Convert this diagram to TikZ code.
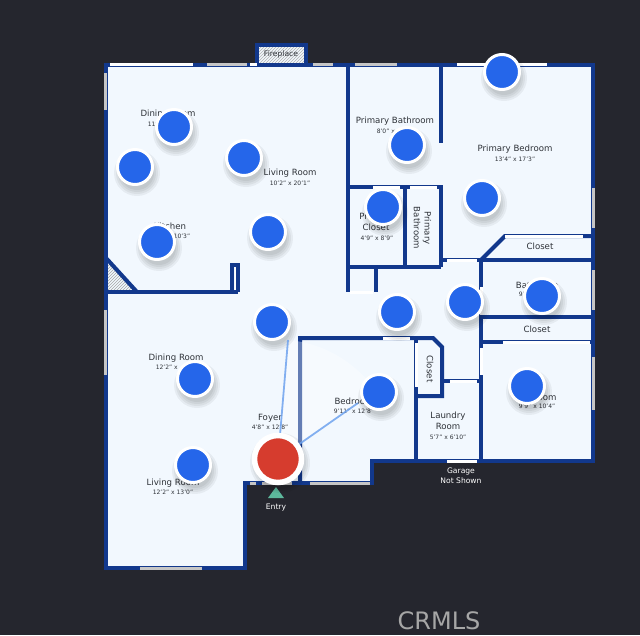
\documentclass[tikz,border=0pt]{standalone}
\usepackage{fontspec}
\setmainfont{DejaVu Sans}
\usetikzlibrary{patterns}
\definecolor{bgdark}{HTML}{25262E}
\definecolor{floorblue}{HTML}{F2F8FE}
\definecolor{wallblue}{HTML}{12388C}
\definecolor{pinblue}{HTML}{2566EA}
\definecolor{pinred}{HTML}{D63C2E}
\definecolor{rayblue}{HTML}{6FA3EE}
\definecolor{textgrey}{HTML}{2E3238}
\definecolor{entrygreen}{HTML}{5DB89C}
\begin{document}
\begin{tikzpicture}[
    x=1pt, y=1pt,
    wall/.style={draw=wallblue,line width=4pt},
    glass/.style={draw=#1,line width=3pt},
    glass/.default=white,
    room/.style={font=\fontsize{8.6}{10.6}\selectfont,text=textgrey,align=center,inner sep=0pt},
    small/.style={font=\fontsize{6}{7}\selectfont,text=textgrey,align=center,inner sep=0pt},
    tag/.style={font=\fontsize{7.6}{10.4}\selectfont,text=white,align=center,inner sep=0pt},
    pin/.style={circle,fill=pinblue,draw=white,line width=3pt,minimum size=35pt,inner sep=0pt},
    ray/.style={draw=rayblue,line width=1.8pt,opacity=.85}
]
    \useasboundingbox (0,0) rectangle (640,-635);
    \fill[bgdark] (0,0) rectangle (640,-635);

    % floor
    \fill[floorblue] (106,-65) -- (593,-65) -- (593,-461) -- (372,-461) -- (372,-483)
        -- (245,-483) -- (245,-568) -- (106,-568) -- cycle;
    \fill[pattern=north east lines,pattern color=gray!70] (106,-260) -- (136,-291) -- (106,-291) -- cycle;

    % fireplace
    \fill[floorblue] (257,-44) rectangle (306,-65);
    \fill[pattern=north east lines,pattern color=gray!60] (257,-44) rectangle (306,-65);
    \draw[wall] (257,-65) -- (257,-45) -- (306,-45) -- (306,-65);

    % outer walls
    \draw[wall] (106,-65) -- (593,-65) -- (593,-461) -- (372,-461) -- (372,-483)
        -- (245,-483) -- (245,-568) -- (106,-568) -- cycle;

    % inner walls
    \draw[wall] (348,-65) -- (348,-292);
    \draw[wall] (441,-65) -- (441,-143);
    \draw[wall] (348,-187) -- (441,-187) -- (441,-267);
    \draw[wall] (405,-187) -- (405,-267);
    \draw[wall] (348,-267) -- (441,-267);
    \draw[wall] (376,-267) -- (376,-292);
    \draw[wall] (441,-260) -- (593,-260);
    \draw[wall] (481,-260) -- (505,-236) -- (593,-236);
    \draw[wall] (481,-260) -- (481,-461);
    \draw[wall] (481,-317) -- (593,-317);
    \draw[wall] (481,-342) -- (593,-342);
    \draw[wall] (106,-292) -- (238,-292);
    \draw[wall] (106,-258) -- (137,-292);
    \draw[wall] (232,-292) -- (232,-265) -- (238,-265) -- (238,-292);
    \draw[wall] (300,-483) -- (300,-338) -- (433,-338) -- (442,-347) -- (442,-396) -- (416,-396);
    \draw[wall] (416,-338) -- (416,-461);
    \draw[wall] (442,-381) -- (481,-381);

    % windows and doors
    \foreach \xa/\xb in {110/193,250/257,457/547}
        \draw[glass] (\xa,-64) -- (\xb,-64);
    \foreach \xa/\xb in {207/247,313/333,355/397}
        \draw[glass=gray!45] (\xa,-64) -- (\xb,-64);
    \foreach \ya/\yb in {73/110,310/375}
        \draw[glass=gray!45] (105,-\ya) -- (105,-\yb);
    \foreach \ya/\yb in {188/228,270/310,357/410}
        \draw[glass=gray!45] (593,-\ya) -- (593,-\yb);
    \foreach \xa/\xb/\yy in {140/202/568,250/256/483,262/292/483,310/370/483}
        \draw[glass=gray!45] (\xa,-\yy) -- (\xb,-\yy);
    \foreach \xa/\xb/\yy in {373/400/187,410/437/187,447/477/260,505/583/236,503/590/342,350/373/292,383/410/338,450/477/381,447/477/461}
        \draw[glass] (\xa,-\yy) -- (\xb,-\yy);
    \foreach \xx/\ya/\yb in {481/287/315,481/348/375,416/343/387}
        \draw[glass] (\xx,-\ya) -- (\xx,-\yb);
    \draw[white,line width=1pt] (235,-268) -- (235,-290);

    % view from the red pin
    \coordinate (viewa) at (288,-340);
    \coordinate (viewb) at (358,-403);
    \fill[white,opacity=.35] (278,-459) -- (viewa) arc[start angle=85,end angle=35,radius=119] -- cycle;

    % labels
    \node[room,font=\fontsize{7.6}{10}\selectfont] (fire) at (281,-54) {Fireplace};
    \node[room] (dininga) at (168,-114) {Dining Room};
    \node[small] (dininganum) at (168,-124) {11'4" x \phantom{14'0"}};
    \node[room] (livinga) at (290,-173) {Living Room};
    \node[small] (livinganum) at (290,-183) {10'2" x 20'1"};
    \node[room] (kitchen) at (170,-226) {Kitchen};
    \node[small] (kitchennum) at (170,-236) {\phantom{11'8" x }10'3"};
    \node[room] (bath) at (395,-121) {Primary Bathroom};
    \node[small] (bathnum) at (395,-131) {8'0" x \phantom{14'0"}};
    \node[room] (master) at (515,-149) {Primary Bedroom};
    \node[small] (masternum) at (515,-159) {13'4" x 17'3"};
    \node[room] (wic) at (376,-222) {Primary\\Closet};
    \node[small] (wicnum) at (377,-238) {4'9" x 8'9"};
    \node[room,rotate=-90] (bathb) at (422.5,-228) {Primary\\Bathroom};
    \node[room] (closeta) at (540,-246) {Closet};
    \node[room] (bathc) at (537,-285) {Bathroom};
    \node[small] (bathcnum) at (537,-294) {9'4" x \phantom{14'0"}};
    \node[room] (closetb) at (537,-329) {Closet};
    \node[room,rotate=-90] (closetc) at (430,-369) {Closet};
    \node[room] (laundry) at (448,-421) {Laundry\\Room};
    \node[small] (laundrynum) at (448,-437) {5'7" x 6'10"};
    \node[room] (bedb) at (537,-397) {Bedroom};
    \node[small] (bedbnum) at (537,-406) {9'9" x 10'4"};
    \node[room] (beda) at (354,-401) {Bedroom};
    \node[small] (bedanum) at (354,-411) {9'11" x 12'8"};
    \node[room] (diningb) at (176,-358) {Dining Room};
    \node[small] (diningbnum) at (176,-367) {12'2" x \phantom{14'0"}};
    \node[room] (livingb) at (173,-483) {Living Room};
    \node[small] (livingbnum) at (173,-492) {12'2" x 13'0"};
    \node[room] (foyer) at (270,-418) {Foyer};
    \node[small] (foyernum) at (270,-427) {4'8" x 12'8"};
    \node[tag] (entry) at (276,-508) {Entry};
    \node[tag] (garage) at (461,-476) {Garage\\Not Shown};
    \node[font=\fontsize{24}{26}\selectfont,text=gray!70,inner sep=0pt] (mark) at (439,-621) {CRMLS};
    \fill[entrygreen] (276,-487) -- (284,-498) -- (268,-498) -- cycle;

    % blue pins
    \foreach \px/\py/\nm in {174/127/pina,135/167/pinb,244/158/pinc,157/242/pind,268/232/pine,
        272/322/pinf,195/379/ping,193/465/pinh,379/392/pini,397/312/pinj,465/302/pink,
        542/296/pinl,527/386/pinm,482/198/pinn,383/207/pino,407/145/pinp,502/72/pinq}{
        \foreach \r in {23,21,19,17}
            \fill[black,opacity=.05] (\px+2,-\py-6) circle (\r);
        \node[pin] (\nm) at (\px,-\py) {};
    }

    % red pin with its rays
    \foreach \r in {30,28,26}
        \fill[black,opacity=.05] (280,-463) circle (\r);
    \node[circle,fill=pinred,draw=white,line width=5.5pt,minimum size=47pt,inner sep=0pt] (here) at (278,-459) {};
    \draw[ray] (here) -- (viewa);
    \draw[ray] (here) -- (viewb);
\end{tikzpicture}
\end{document}
